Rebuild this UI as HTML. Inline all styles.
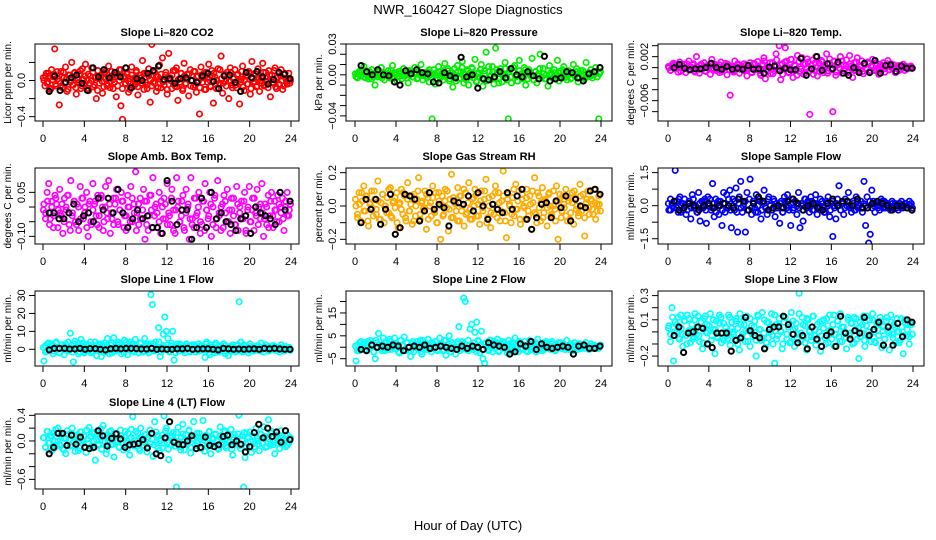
<!DOCTYPE html>
<html><head><meta charset="utf-8"><title>NWR_160427 Slope Diagnostics</title>
<style>
html,body{margin:0;padding:0;background:#fff;}
svg{display:block;font-family:"Liberation Sans",Arial,sans-serif;}
</style></head>
<body>
<svg id="chart" width="936" height="540" viewBox="0 0 936 540" xmlns="http://www.w3.org/2000/svg">
<rect width="936" height="540" fill="#fff"/>
<text x="468" y="14" font-size="13" text-anchor="middle">NWR_160427  Slope Diagnostics</text>
<text x="468" y="530" font-size="13" text-anchor="middle">Hour of Day (UTC)</text>
</svg>
<script>
// ---- data (values in panel units * scale) ----
const xTicks = [0,4,8,12,16,20,24];
const co2Vals = [0,5,-3,8,-10,12,4,35,-6,2,-27,10,-8,3,15,-12,6,-2,20,-5,9,-15,1,7,-9,13,-4,18,0,-11,5,14,-7,3,-20,11,-3,6,-14,8,2,-6,16,-1,10,-9,4,-18,7,12,-28,-43,5,-4,9,-13,2,15,-7,0,11,-16,6,-3,22,-10,8,-5,13,-24,40,-2,9,-12,4,17,-8,25,-1,6,-15,30,3,-9,11,-6,14,-22,2,8,-11,19,-4,7,-17,12,0,-7,10,-13,5,-37,15,-2,8,-10,3,18,-6,11,-25,4,-9,13,-3,27,-14,6,-1,9,-20,14,-5,2,12,-8,7,-26,1,16,-11,5,-4,10,-15,21,-2,8,-7,13,-12,3,19,-6,9,-1,11,-18,6,-3,14,-9,4,-5,12,-10,7,2,-4,8,0];
const co2Band = [3,-6,8,-2,5,-9,1,7,-4,10,-1,-7,4,9,-3,2,-10,6,0,-5,8,-8,3,-2,11,-6,1,5,-9,7,-3,0,9,-5,4,-11,2,6,-1,-7,10,-4,3,-8,5,1,-2,8,-6,0,12,-9,4,-3,7,-1,-10,6,2,-5,9,-7,0,3,-4,8,-2,-9,5,1,-6,10,-3,4,-8,2,7,-1,-5,9,-10,3,0,6,-4,11,-7,1,-2,8,-9,5,-3,2,7,-6,0,10,-5,4,-1,-8,6,3,-10,9,-2,1,-7,5,8,-4,0,-9,12,2,-3,7,-6,4,-1,9,-8,3,-5,6,0,-2,10,-7,1,5,-4,8,-9,2,-1,7,-6,3,0,-3,9,-5,4,-8,6,1,-2,11,-7,3,-4,5,0,-6,8,-1,2,-3];
const co2Black = [-12,5,-11,-2,3,6,-3,-11,14,4,12,3,9,4,14,-8,2,0,8,11,16,1,2,-3,2,3,0,-2,5,8,-1,-9,5,6,-2,-12,9,3,10,4,-4,1,9,7,2];
const presVals = [-2,1,3,-1,0,8,-3,2,-4,1,5,-2,-10,0,3,-1,7,2,-5,0,1,-3,4,9,-2,0,-6,3,1,-4,6,-1,2,-8,0,4,-2,7,1,-3,0,10,-5,2,-1,3,-7,0,-43,5,-9,2,8,-3,1,-5,11,0,4,-6,2,-12,6,-1,9,-4,3,13,-8,0,5,-10,2,7,-3,15,-6,1,-2,10,-11,4,22,-5,3,-1,8,-9,26,2,-4,6,-7,1,12,-3,-43,5,-8,3,9,-2,-6,14,0,-4,7,-10,2,5,-1,16,-5,3,-8,1,20,-2,6,-4,0,-11,9,2,-3,5,-1,14,-6,3,0,8,-2,-5,4,1,-3,10,-1,6,-7,2,0,4,-4,12,-2,1,5,-3,0,7,-2,-43,3];
const presBand = [1,-3,2,0,-2,4,-1,3,-4,1,0,-2,3,-3,2,-1,4,0,-4,2,1,-2,3,-1,0,-3,4,2,-2,1,-4,3,0,-1,2,-3,5,-2,1,0,-5,3,-1,4,-2,6,-4,2,0,-6,3,-3,7,1,-5,4,-2,6,0,-7,2,5,-3,1,-6,8,-1,3,-4,5,-8,2,0,6,-5,3,-2,7,-1,-6,4,1,-3,5,-4,2,0,-5,3,-1,6,-2,1,-4,4,0,-3,2,-1,3,-2,5,-3,1,0,-4,2,-1,3,-2,4,0,-3,1,2,-1,0,3,-2,1];
const presBlack = [9,3,0,5,0,-1,-7,-10,4,1,5,2,1,-7,-8,2,-1,-3,17,-2,0,-13,-4,-5,-2,3,-3,6,0,-2,3,-1,-4,18,-6,-4,-3,3,2,-3,-6,1,3,7];
const tempVals = [0,-5,3,8,-2,5,-8,10,0,-4,6,-9,2,12,-3,0,7,-6,20,1,-10,4,-2,9,-7,0,3,-12,15,-1,6,-5,2,-9,10,-3,0,8,-13,4,-50,1,-6,12,-2,5,-10,3,0,7,-4,-15,2,9,-8,0,6,-3,11,-1,-14,4,18,-20,2,-6,9,0,-11,3,25,-4,40,-22,7,-2,36,12,-9,0,15,-18,5,-3,22,-7,2,18,-12,6,-1,10,-85,4,14,-5,20,-15,8,-2,11,-9,3,25,-6,16,-4,-80,12,-14,7,0,20,-10,5,-2,14,-8,22,3,-18,9,-4,18,-6,1,12,-11,5,-1,10,-7,3,15,-5,8,-3,-12,6,0,9,-8,2,13,-4,7,-2,5,-9,1,4,-3,0,6,-5,2,-2,0,3,-1];
const tempBand = [2,-5,6,-2,0,4,-7,3,-1,7,-4,1,5,-8,2,-3,6,0,-6,4,-1,8,-5,3,-2,5,-7,1,0,6,-4,3,-8,2,7,-3,0,-6,5,-1,4,-9,8,-2,3,-10,6,12,-4,1,-11,9,-6,14,-3,5,-12,10,0,-8,15,-5,3,-14,11,-2,7,-9,16,-6,4,-12,9,0,-7,13,-4,2,-10,8,-3,11,-8,5,-1,12,-6,3,-9,7,0,-5,10,-3,4,-7,6,-1,8,-5,2,-4,5,0,-6,3,-2,7,-4,1,-3,4,0,-5,2,-1,3,-2,1,0];
const tempBlack = [0,6,-1,-4,-2,-2,0,8,0,-3,2,-3,-1,-3,4,-3,-2,-10,1,3,-6,-1,-4,-4,17,-14,-2,20,-5,7,-2,10,-10,-14,0,-9,8,-9,13,-10,4,5,-7,3,-1,-1];
const ambVals = [1,-2,5,8,-4,2,-7,4,1,-1,6,-3,-9,3,0,4,-6,9,-2,2,-5,1,-8,7,3,-4,0,5,-10,2,-6,8,1,-3,4,-7,3,0,-5,7,-2,9,-9,-4,3,1,6,-6,-1,5,2,-3,-8,4,0,7,-5,1,12,-2,-6,3,-4,6,-11,2,-8,4,-1,10,-3,1,-7,5,-9,0,3,-4,8,-2,-6,6,-1,-9,10,2,-5,-3,4,-8,6,0,-11,10,-4,-7,3,-2,5,-9,-6,2,8,-1,-4,5,-10,0,3,-7,9,-3,-8,1,4,-2,6,-5,-9,-1,3,-6,7,-8,0,2,-4,5,-9,-1,7,-5,3,-8,-2,6,0,-4,8,-10,1,-6,4,-3,5,-7,2,-1,4,-5,0,3,-8,2,5,-3,1];
const ambBand = [-1,-4,2,-6,0,-3,3,-7,-2,1,-5,-1,4,-8,-3,2,-6,0,-4,3,-2,-7,1,-5,-1,2,-6,-3,4,-8,0,-4,1,-2,-6,3,-5,-1,2,-7,-3,0,-5,3,-2,-8,1,-4,-1,2,-6,-3,4,-7,0,-2,-5,2,-4,1,-6,-3,3,-8,-1,0,-5,2,-7,-2,1,-4,-6,3,-3,0,-5,2,-8,-1,-3,1,-6,4,-4,-2,0,-7,2,-5,-1,3,-3,-6,1,-2,-4,2,-8,0,-5,-1,3,-3,-6,1,-2,-4,0,-7,2,-3,-1,-5,1,-2,-4,0,-3,-1];
const ambBlack = [-2,-2,-4,-4,-2,1,-5,-3,-2,-5,3,-1,3,-2,6,-2,-7,-4,-1,-4,-3,-7,-7,-9,9,2,-6,-1,-1,-11,-7,3,-7,5,-4,-2,-5,-6,-8,-4,-3,-9,0,-2,-3,-4,-6,5,-1,2];
const rhVals = [0,-5,8,-9,3,12,-3,6,-12,1,9,-6,4,-2,15,-8,2,7,-10,0,5,-4,11,-7,3,-1,8,-13,2,10,-5,6,-9,14,-3,1,-11,7,-6,4,17,-8,2,-2,9,-14,5,0,-6,12,-3,8,-10,3,-20,6,-5,10,-1,-15,4,19,-7,2,-3,11,-9,6,0,-12,8,-4,14,-2,-8,5,10,-6,1,-11,9,-3,4,16,-7,0,-13,6,-5,12,-2,8,-9,3,21,-4,-19,7,1,-10,5,-6,13,-2,9,-11,4,0,-8,10,-3,6,-14,2,17,-5,8,-1,-9,11,-4,3,-12,7,0,-6,9,-2,12,-20,4,-7,6,-1,10,-9,3,-4,8,-11,5,0,-6,13,-3,7,-18,2,9,-5,4,-2,10,-8,1,6,-3];
const rhBand = [4,-7,1,8,-3,6,-9,2,-1,9,-5,3,-8,7,0,-4,10,-6,2,5,-10,1,-2,8,-7,4,-3,6,-9,0,9,-5,3,-1,7,-8,2,5,-4,-10,8,0,-6,3,9,-2,-7,5,1,-9,6,-3,10,-5,2,-8,4,0,7,-6,3,-1,9,-10,5,-4,1,8,-7,2,-3,6,-9,4,0,-5,10,-2,3,-8,7,-1,5,-6,1,9,-4,-10,6,2,-7,4,-1,8,-5,0,-9,3,7,-3,1,-6,5,-8,2,9,-2,-4,6,0,-7,4,-1,3,-5,2,-3,1];
const rhBlack = [-10,4,-2,4,-11,-2,7,-17,-13,7,6,4,-9,-3,8,-2,1,-1,-12,3,2,1,6,-3,8,0,-8,1,-2,-4,8,-2,6,10,-8,-14,-7,1,2,-7,3,-1,6,-9,4,0,-1,9,10,7];
const sfVals = [-2,3,1,-1,16,2,-3,4,0,-2,3,-4,1,2,-6,5,-1,0,-3,6,-7,2,-1,3,-8,4,0,-2,10,-5,3,1,-4,2,-9,6,-3,5,-1,7,-10,3,-2,8,-12,4,11,-3,1,-12,6,-2,12,-4,2,-1,5,-3,3,-6,2,7,-1,-4,4,0,-2,3,-5,1,-1,-8,2,-3,4,0,5,-2,-9,3,-1,2,-4,6,-10,0,-7,3,-1,2,-3,4,-2,1,5,-4,0,3,-2,-1,-3,2,4,-5,1,-14,0,-6,3,9,-2,1,-4,3,0,6,-1,-3,2,-2,4,-1,0,2,-3,11,-9,4,-17,-13,7,2,-3,1,0,-2,3,-1,2,-1,1,0,-2,2,-1,1,0,-2,1,2,-1,0,1,-1,2,0,-1];
const sfBand = [1,-2,0,2,-1,3,-3,1,0,-2,2,-1,3,0,-3,1,-1,2,-2,0,3,-1,1,-3,2,0,-2,1,-1,3,-2,0,2,-3,1,-1,0,2,-2,3,-1,1,-3,0,2,-2,1,-1,3,0,-2,2,-1,0,1,-3,2,-1,0,1,-2,2,0,-1,1,-2,3,0,-1,2,-2,1,0,-1,2,-3,1,0,-2,2,-1,1,0,-2,1,-1,2,0,-1,1,-2,2,0,-1,1,0,-1,2,-1,0,1,-1,0,2,-1,1,0,-1,1,0,-1,1,-1,0,1,-1,0,1];
const sfBlack = [2,-2,-1,1,0,-2,0,1,-1,0,1,0,-1,3,2,-2,1,4,2,-2,-1,0,-1,2,3,1,-2,0,1,-1,-2,1,3,0,2,2,0,3,-1,-1,1,2,1,0,-2,0,0,-1,-2];
const l1Vals = [-65,20,-10,35,5,30,-25,15,40,0,-20,25,10,-30,30,5,-10,90,20,-70,45,0,30,-15,55,10,-20,25,5,-5,40,-10,20,0,-35,30,10,-40,15,35,-15,60,0,25,-20,65,10,-5,40,30,-25,15,50,0,-30,20,40,-10,30,55,5,-20,35,10,-15,60,20,-5,30,305,250,-10,40,10,120,-40,15,85,180,100,60,-15,20,100,-60,5,30,-10,25,0,15,-20,30,5,-10,20,0,25,-15,10,30,-5,20,0,-45,40,15,-30,25,10,-20,35,5,-15,20,0,30,-25,10,-35,15,-10,25,5,-5,20,265,40,-15,25,0,10,-20,30,5,-10,15,0,20,-5,35,10,-15,25,0,-10,15,5,20,-5,10,0,-15,25,5,-10,15,0,10,-5];
const l1Band = [10,-15,30,0,20,-10,35,5,-20,25,15,-5,40,0,-15,30,10,-25,20,35,-10,5,25,-20,15,40,0,-5,30,-15,20,10,-25,35,5,-10,25,0,15,-20,40,10,-5,30,-15,20,0,35,-10,15,25,-20,5,30,-5,10,40,-15,20,0,25,-10,35,5,-20,15,30,0,-5,20,10,-15,25,0,15,-10,20,5,-5,30,-20,10,0,25,-15,15,5,-10,20,0,-5,15,10,-15,25,0,5,-10,20,-5,15,0,10,-5,20,-10,5,15,0,-5,10,0,15,-5,5,10,-5,0,5,10];
const l1Black = [-3,5,5,5,2,2,5,0,4,4,0,-3,3,5,3,5,5,4,2,2,5,0,2,0,0,3,3,5,0,2,3,3,0,-3,5,3,0,2,0,2,3,0,5,3,5,2,0,0];
const l2Vals = [-60,10,-15,25,0,20,-10,15,-5,30,5,-20,-50,20,60,10,-5,40,-15,25,0,35,-10,15,40,-5,10,-25,30,5,45,-15,20,0,-40,15,-20,10,25,-5,30,-30,10,20,-10,35,5,-20,15,0,25,-10,40,5,-15,30,-35,10,50,-20,20,0,-30,15,90,-5,25,215,200,10,-15,80,100,-10,65,110,30,-25,70,-50,-70,20,-10,30,5,-20,25,0,35,-15,15,-5,20,10,-25,30,0,15,-10,40,5,-20,20,-5,10,25,-15,0,30,-10,15,5,-20,35,0,10,-15,20,-5,15,0,-10,25,5,-15,10,0,20,-5,15,-10,30,0,-5,10,-15,20,5,-10,15,0,10,-5,20,0,-10,15,-5,10,5,0,-5,10];
const l2Band = [5,-15,20,0,10,-10,25,-5,15,-20,30,0,10,-15,20,5,-10,25,0,-5,15,-20,30,5,-10,20,0,-15,25,10,-5,15,-20,30,0,10,-10,20,-5,25,-15,5,15,-10,30,0,-20,20,10,-5,25,-15,5,15,-10,30,-5,0,20,-20,25,10,-10,15,0,-15,30,5,-5,20,-20,10,25,0,-10,15,-15,20,5,-5,25,-10,10,0,-20,15,5,-5,20,-15,10,0,-10,25,5,-5,15,0,-10,20,5,-5,10,0,-10,15,5,-5,10,0,-5,10,5,0,-5,5,0,5,-5,0];
const l2Black = [-10,-15,10,0,5,0,10,5,-15,0,5,0,10,-5,0,5,0,-5,-10,5,-5,5,0,-10,20,10,5,0,-30,-20,15,5,25,-10,15,0,-5,0,5,0,-30,5,10,-5,-5,5];
const l3Vals = [5,-2,20,-24,8,0,12,-6,3,-12,9,-3,14,1,-9,6,-4,10,-2,13,-8,4,-14,11,0,6,-10,15,-3,2,-18,9,-5,7,12,-1,-7,4,-3,14,-11,8,0,-6,11,3,-15,6,-2,10,-8,13,1,-12,5,-4,9,-20,14,2,-7,16,-1,-13,8,-5,3,15,-10,-26,6,-3,11,0,-14,8,12,-6,4,-9,16,2,-12,7,-2,32,-8,12,-4,5,-15,10,1,-7,13,-3,-11,6,0,-16,9,3,-5,11,-9,14,-1,6,-12,2,9,-4,15,-8,4,0,-14,10,-3,7,-10,12,2,-6,-22,8,-1,13,-12,5,-4,10,-8,15,0,-9,7,-3,12,-13,4,-6,9,1,-15,14,-2,6,-9,11,0,-7,4,-18,10,-3,6,-10,8,-2];
const l3Band = [3,-8,12,0,6,-5,14,-2,9,-10,11,1,-6,15,4,-3,8,-9,13,-1,5,-7,10,2,-4,14,-9,7,0,-6,12,3,-2,9,-10,15,-4,6,1,-8,11,-1,4,-7,13,2,-5,10,-9,8,0,-3,14,-6,5,1,-10,12,-2,7,-8,9,3,-5,15,-1,6,-9,11,0,-4,13,2,-7,8,-3,10,-10,5,1,-6,14,-2,9,-8,4,0,-5,12,-1,7,-9,11,3,-4,6,-7,13,0,-2,10,-8,5,-3,9,1,-6,12,-1,8,-5,4,0,-9,11,-3,7,2,-4,6];
const l3Black = [-3,4,-17,-1,0,4,3,-10,-13,-1,-1,-1,-16,-7,-5,12,1,-3,-5,-14,2,4,4,13,6,-2,-9,-3,-14,4,-6,-12,-3,0,-12,13,-1,-6,1,-1,12,-3,2,8,-11,4,-11,7,-4,10,8];
const l4Vals = [5,-10,15,-3,8,-15,12,0,-8,20,-5,10,-12,4,-20,16,2,-7,11,-2,-16,9,5,-11,14,-4,7,-18,3,21,-9,12,0,-30,10,-5,6,-13,24,-2,-20,8,14,-6,2,-25,11,-1,-9,17,4,-14,7,-3,12,-22,5,38,-8,15,-1,-12,20,3,-7,10,-17,6,-4,12,-24,30,-2,9,-15,4,-11,39,16,-3,-29,8,-6,13,0,-72,21,-9,5,26,-14,10,-4,17,-19,3,30,-7,12,-1,-10,6,32,-16,9,-3,14,-20,5,-8,11,0,-13,22,4,-6,16,-11,7,-2,18,-22,10,-5,3,40,-12,8,-72,-26,12,-3,14,-18,6,-9,20,0,-15,11,-4,22,-10,5,33,-7,15,-2,-20,9,4,-12,16,-6,2,-9,10,-3,5];
const l4Band = [5,-10,15,-3,8,-12,18,0,-6,12,-14,4,10,-8,20,-2,6,-15,14,1,-9,17,-4,7,-11,13,2,-7,19,-1,9,-13,5,16,-5,0,11,-10,8,-3,15,-12,4,18,-7,1,12,-15,6,-2,10,-9,17,3,-6,14,-11,0,9,-4,20,-13,5,7,-8,13,-1,-14,11,2,-6,16,-10,4,8,-3,12,-12,6,0,-9,15,-5,3,10,-11,7,-2,14,-8,1,9,-13,5,-4,11,-7,2,13,-10,6,-1,8,-12,4,-5,10,-3,7,-9,3,12,-6,0,9,-4,5,-2,8,-7,3];
const l4Black = [-20,-10,12,12,-7,9,-5,6,-10,-12,-10,16,8,-8,4,11,3,-10,-6,-5,-4,2,-11,12,-20,-23,5,30,-2,-5,-6,0,8,-12,-10,6,-7,-9,-6,7,9,-6,0,-5,-17,-9,13,26,5,20,7,14,-2,16,2];

// ---- layout ----
const cols = [{l:35,r:299,x0:43,x24:291},{l:346,r:612,x0:355,x24:601},{l:658,r:924,x0:668,x24:913}];
const rows = [{t:44,b:121},{t:168,b:244},{t:291,b:366},{t:414,b:489}];
const panels = [
 {name:'co2',title:'Slope Li\u2013820 CO2',ylab:'Licor ppm per min.',c:0,r:0,ymin:-0.448,ymax:0.404,scale:0.01,vals:co2Vals,band:co2Band,blk:co2Black,color:'#ff0000',ticks:[-0.4,-0.2,0,0.2],labels:[[-0.4,'\u22120.4'],[0,'0.0']]},
 {name:'pressure',title:'Slope Li\u2013820 Pressure',ylab:'kPa per min.',c:1,r:0,ymin:-0.045,ymax:0.03,scale:0.001,vals:presVals,band:presBand,blk:presBlack,color:'#00ee00',ticks:[-0.04,-0.03,-0.02,-0.01,0,0.01,0.02,0.03],labels:[[-0.04,'\u22120.04'],[0,'0.00'],[0.03,'0.03']]},
 {name:'li820-temp',title:'Slope Li\u2013820 Temp.',ylab:'degrees C per min.',c:2,r:0,ymin:-0.0097,ymax:0.0043,scale:0.0001,vals:tempVals,band:tempBand,blk:tempBlack,color:'#ff00ff',ticks:[-0.008,-0.006,-0.004,-0.002,0,0.002,0.004],labels:[[-0.006,'\u22120.006'],[0.002,'0.002']]},
 {name:'amb-box-temp',title:'Slope Amb. Box Temp.',ylab:'degrees C per min.',c:0,r:1,ymin:-0.126,ymax:0.133,scale:0.01,vals:ambVals,band:ambBand,blk:ambBlack,color:'#ff00ff',ticks:[-0.1,-0.05,0,0.05],labels:[[-0.1,'\u22120.10'],[0.05,'0.05']]},
 {name:'gas-stream-rh',title:'Slope Gas Stream RH',ylab:'percent per min.',c:1,r:1,ymin:-0.228,ymax:0.228,scale:0.01,vals:rhVals,band:rhBand,blk:rhBlack,color:'#ffaa00',ticks:[-0.2,-0.1,0,0.1,0.2],labels:[[-0.2,'\u22120.2'],[0,'0.0'],[0.2,'0.2']]},
 {name:'sample-flow',title:'Slope Sample Flow',ylab:'ml/min per min.',c:2,r:1,ymin:-1.74,ymax:1.71,scale:0.1,vals:sfVals,band:sfBand,blk:sfBlack,color:'#0000ff',ticks:[-1.5,-0.75,0,0.75,1.5],labels:[[-1.5,'\u22121.5'],[0,'0.0'],[1.5,'1.5']]},
 {name:'line1-flow',title:'Slope Line 1 Flow',ylab:'ml/min per min.',c:0,r:2,ymin:-9.3,ymax:32.5,scale:0.1,vals:l1Vals,band:l1Band,blk:l1Black,color:'#00ffff',ticks:[0,10,20,30],labels:[[0,'0'],[10,'10'],[20,'20'],[30,'30']]},
 {name:'line2-flow',title:'Slope Line 2 Flow',ylab:'ml/min per min.',c:1,r:2,ymin:-8.2,ymax:24.6,scale:0.1,vals:l2Vals,band:l2Band,blk:l2Black,color:'#00ffff',ticks:[-5,0,5,10,15,20],labels:[[-5,'\u22125'],[5,'5'],[15,'15']]},
 {name:'line3-flow',title:'Slope Line 3 Flow',ylab:'ml/min per min.',c:2,r:2,ymin:-0.282,ymax:0.338,scale:0.01,vals:l3Vals,band:l3Band,blk:l3Black,color:'#00ffff',ticks:[-0.2,-0.1,0,0.1,0.2,0.3],labels:[[-0.2,'\u22120.2'],[0.1,'0.1'],[0.3,'0.3']]},
 {name:'line4-flow',title:'Slope Line 4 (LT) Flow',ylab:'ml/min per min.',c:0,r:3,ymin:-0.75,ymax:0.421,scale:0.01,vals:l4Vals,band:l4Band,blk:l4Black,color:'#00ffff',ticks:[-0.6,-0.4,-0.2,0,0.2,0.4],labels:[[-0.6,'\u22120.6'],[0,'0.0'],[0.4,'0.4']]}
];

const NS='http://www.w3.org/2000/svg';
const svg=document.getElementById('chart');
function mk(tag,attrs,parent){const e=document.createElementNS(NS,tag);for(const k in attrs)e.setAttribute(k,attrs[k]);(parent||svg).appendChild(e);return e;}

panels.forEach(p=>{
  const C=cols[p.c],R=rows[p.r];
  const xs=h=>C.x0+(C.x24-C.x0)*h/24;
  const ys=v=>R.b-(v-p.ymin)/(p.ymax-p.ymin)*(R.b-R.t);
  const g=mk('g',{});
  
  
  const clip=mk('clipPath',{id:'clip-'+p.name},g);
  mk('rect',{x:C.l,y:R.t,width:C.r-C.l,height:R.b-R.t},clip);
  const pts=mk('g',{'clip-path':'url(#clip-'+p.name+')',fill:'none','stroke-width':'1.7'},g);
  
  
  [p.vals,p.band].forEach((arr,k)=>{
    const n=arr.length;
    arr.forEach((v,i)=>{
      const h=24*(i+(k?0.2:0.6))/n;
      const c=mk('circle',{cx:xs(h).toFixed(1),cy:ys(v*p.scale).toFixed(1),r:2.7,stroke:p.color},pts);
      
      
    });
  });
  const m=p.blk.length;
  p.blk.forEach((v,i)=>{
    const h=0.6+23.3*i/(m-1);
    const c=mk('circle',{cx:xs(h).toFixed(1),cy:ys(v*p.scale).toFixed(1),r:2.6,stroke:'#000','stroke-width':2},pts);
    
    
  });
  const box=mk('rect',{x:C.l,y:R.t,width:C.r-C.l,height:R.b-R.t,fill:'none',stroke:'#000','stroke-width':1},g);
  
  
  const t=mk('text',{x:(C.l+C.r)/2,y:R.t-8,'font-size':11,'font-weight':'bold','text-anchor':'middle'},g);
  t.textContent=p.title;
  
  
  mk('line',{x1:xs(0),x2:xs(24),y1:R.b,y2:R.b,stroke:'#000'},g);
  xTicks.forEach(h=>{
    mk('line',{x1:xs(h),x2:xs(h),y1:R.b,y2:R.b+6,stroke:'#000'},g);
    const tl=mk('text',{x:xs(h),y:R.b+21,'font-size':11,'text-anchor':'middle'},g);
    tl.textContent=h;
    
    
  });
  p.ticks.forEach(v=>{
    mk('line',{x1:C.l-6,x2:C.l,y1:ys(v),y2:ys(v),stroke:'#000'},g);
  });
  p.labels.forEach(([v,s])=>{
    const yy=ys(v);
    const tl=mk('text',{x:C.l-10,y:yy,'font-size':11,'text-anchor':'middle',transform:'rotate(-90 '+(C.l-10)+' '+yy+')'},g);
    tl.textContent=s;
    
    
  });
  const ym=(R.t+R.b)/2;
  const yl=mk('text',{x:C.l-24,y:ym,'font-size':10,'text-anchor':'middle',transform:'rotate(-90 '+(C.l-24)+' '+ym+')'},g);
  yl.textContent=p.ylab;
  
  
});
</script>
</body></html>
